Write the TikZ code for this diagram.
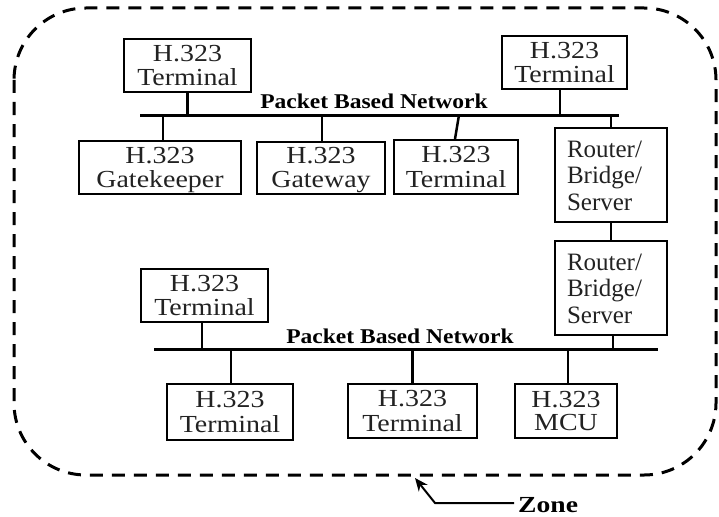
\documentclass[tikz,border=0pt]{standalone}
\usepackage{fontspec}
\setmainfont{Liberation Serif}
\usetikzlibrary{arrows.meta}
\definecolor{ink}{HTML}{222222}
% two-line labels, set wide as in the drawing; lowered a little inside the box
\newcommand{\unittext}[1]{\raisebox{-3.3pt}[\height][\depth]{\scalebox{1.14}[1]{%
  \fontsize{24.5}{23.5}\selectfont\begin{tabular}{@{}c@{}}#1\end{tabular}}}}
\newcommand{\relaytext}{\raisebox{-3.3pt}[\height][\depth]{\fontsize{25}{26.5}\selectfont
  \begin{tabular}{@{}l@{}}Router/\\Bridge/\\Server\end{tabular}}}
\newcommand{\netname}{\scalebox{1.12}[1]{\fontsize{21}{21}\selectfont\bfseries Packet Based Network}}
\tikzset{
  unit/.style={draw, line width=2pt, rectangle, inner sep=0pt, text=ink},
  relay/.style={unit, anchor=west, inner xsep=12pt,
    text width=88pt, minimum height=94pt},
  bus/.style={line width=3pt},
  link/.style={line width=2.5pt},
  netlabel/.style={inner sep=0pt, anchor=base},
  zoneline/.style={line width=3pt, dash pattern=on 13pt off 9pt, rounded corners=72pt}
}
\begin{document}
\begin{tikzpicture}[x=1pt, y=-1pt]
\useasboundingbox (0,0) rectangle (719,516);

% zone boundary
\draw[zoneline] (14,8) rectangle (716,475);

% upper network
\coordinate (b1w) at (140,115);
\coordinate (b1e) at (619,115);
\draw[bus] (b1w) -- (b1e);
\node[netlabel] (n1) at (374,108) {\netname};

\node[unit, minimum width=127pt, minimum height=53pt] (t1) at (187.5,65.5) {\unittext{H.323\\Terminal}};
\node[unit, minimum width=125pt, minimum height=53pt] (t2) at (564.5,62.5) {\unittext{H.323\\Terminal}};
\node[unit, minimum width=162pt, minimum height=53pt] (gk) at (160,167.5) {\unittext{H.323\\Gatekeeper}};
\node[unit, minimum width=128pt, minimum height=52pt] (gw) at (321,167.5) {\unittext{H.323\\Gateway}};
\node[unit, minimum width=124pt, minimum height=54pt] (t3) at (456,167) {\unittext{H.323\\Terminal}};
\node[relay] (r1) at (554,175) {\relaytext};
\node[relay] (r2) at (554,288) {\relaytext};

\draw[link] (t1.south) -- (t1.south |- b1w);
\draw[link] ([xshift=-4.5pt]t2.south) -- ([xshift=-4.5pt]t2.south |- b1w);
\draw[link] ([xshift=3pt]gk.north) -- ([xshift=3pt]gk.north |- b1w);
\draw[link] ([xshift=1pt]gw.north) -- ([xshift=1pt]gw.north |- b1w);
\draw[link] ([xshift=-1pt]t3.north) -- ([xshift=3pt]t3.north |- b1w);
\draw[link] (r1.north) -- (r1.north |- b1w);
\draw[link] (r1.south) -- (r2.north);

% lower network
\coordinate (b2w) at (154,349);
\coordinate (b2e) at (658,349);
\draw[bus] (b2w) -- (b2e);
\node[netlabel] (n2) at (400,343) {\netname};

\node[unit, minimum width=127pt, minimum height=53pt] (t4) at (204.5,295.5) {\unittext{H.323\\Terminal}};
\node[unit, minimum width=126pt, minimum height=56pt] (t5) at (230,412) {\unittext{H.323\\Terminal}};
\node[unit, minimum width=129pt, minimum height=54pt] (t6) at (412.5,411) {\unittext{H.323\\Terminal}};
\node[unit, minimum width=102pt, minimum height=54pt] (mcu) at (566,411) {\unittext{H.323\\MCU}};

\draw[link] ([xshift=-2.5pt]t4.south) -- ([xshift=-2.5pt]t4.south |- b2w);
\draw[link] ([xshift=1pt]t5.north) -- ([xshift=1pt]t5.north |- b2w);
\draw[link] (t6.north) -- (t6.north |- b2w);
\draw[link] ([xshift=2pt]mcu.north) -- ([xshift=2pt]mcu.north |- b2w);
\draw[link] ([xshift=2pt]r2.south) -- ([xshift=2pt]r2.south |- b2w);

% zone callout
\node[inner sep=0pt, anchor=base west] (zone) at (518,512)
  {\scalebox{1.2}[1]{\fontsize{23}{23}\selectfont\bfseries Zone}};
\coordinate (bend) at (435,503);
\coordinate (tip) at (415,478);
\draw[line width=2pt, -{Stealth[length=13pt, width=11pt]}]
  ([xshift=-4pt]zone.west |- bend) -- (bend) -- (tip);
\end{tikzpicture}
\end{document}
